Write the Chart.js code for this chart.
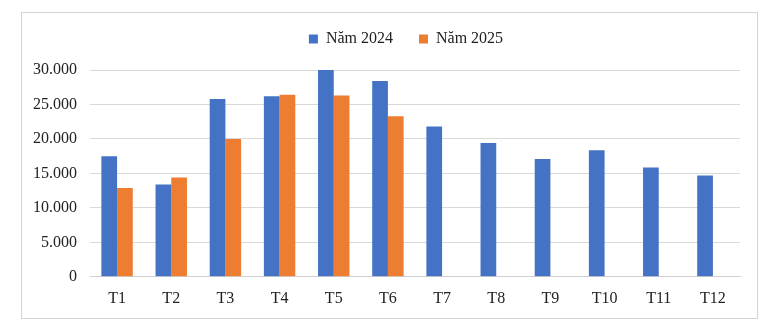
<!DOCTYPE html>
<html>
<head>
    <title>Năm 2024 - Năm 2025</title>
    <script src="https://cdn.jsdelivr.net/npm/chart.js@4/dist/chart.umd.min.js"></script>
    <style>
        body {
            margin: 0;
            background: #fff;
        }
        .wrap {
            position: relative;
            width: 776px;
            height: 334px;
        }
        .frame {
            position: absolute;
            left: 21px;
            top: 12px;
            width: 735px;
            height: 305px;
            border: 1px solid #d4d4d4;
        }
        canvas {
            position: absolute;
            left: 0;
            top: 0;
        }
    </style>
</head>
<body>
    <div class="wrap">
        <div class="frame"></div>
        <canvas id="monthChart" width="776" height="334"></canvas>
    </div>

    <script>
        const months = ['T1', 'T2', 'T3', 'T4', 'T5', 'T6', 'T7', 'T8', 'T9', 'T10', 'T11', 'T12'];
        const values2024 = [17500, 13400, 25800, 26200, 30000, 28400, 21800, 19400, 17100, 18350, 15850, 14700];
        const values2025 = [12900, 14400, 20000, 26400, 26300, 23300, null, null, null, null, null, null];
        const yTicks = [0, 5000, 10000, 15000, 20000, 25000, 30000];

        function formatThousands(v) {
            return String(v).replace(/\B(?=(\d{3})+(?!\d))/g, '.');
        }

        const serif = { family: '"Liberation Serif", "Times New Roman", serif', size: 16 };

        // extra room under the legend, and legend centred over the plot area
        const legendPlacement = {
            id: 'legendPlacement',
            beforeInit: function(chart) {
                const fit = chart.legend.fit;
                chart.legend.fit = function() {
                    fit.call(this);
                    this.height += 13;
                };
            },
            afterLayout: function(chart) {
                chart.legend.left += 26;
                chart.legend.right += 26;
            }
        };

        const ctx = document.getElementById('monthChart').getContext('2d');
        new Chart(ctx, {
            type: 'bar',
            data: {
                labels: months,
                datasets: [{
                    label: 'Năm 2024',
                    data: values2024,
                    backgroundColor: '#4472C4',
                    categoryPercentage: 0.58,
                    barPercentage: 1.0
                }, {
                    label: 'Năm 2025',
                    data: values2025,
                    backgroundColor: '#ED7D31',
                    categoryPercentage: 0.58,
                    barPercentage: 1.0
                }]
            },
            plugins: [legendPlacement],
            options: {
                responsive: false,
                animation: false,
                layout: {
                    padding: { top: 5, left: 20, right: 36, bottom: 14 }
                },
                plugins: {
                    legend: {
                        position: 'top',
                        labels: {
                            color: '#222',
                            font: serif,
                            boxWidth: 9,
                            boxHeight: 9,
                            padding: 26
                        }
                    },
                    tooltip: { enabled: false }
                },
                scales: {
                    x: {
                        grid: { display: false, drawTicks: false },
                        border: { display: true, color: '#d0d0d0' },
                        ticks: { color: '#222', font: serif, padding: 12 }
                    },
                    y: {
                        min: 0,
                        max: 30000,
                        afterBuildTicks: function(axis) {
                            axis.ticks = yTicks.map(function(v) { return { value: v }; });
                        },
                        grid: { color: '#d9d9d9', drawTicks: false },
                        border: { display: false },
                        ticks: {
                            color: '#222',
                            font: serif,
                            padding: 13,
                            callback: function(v) { return formatThousands(v); }
                        }
                    }
                }
            }
        });
    </script>
</body>
</html>
